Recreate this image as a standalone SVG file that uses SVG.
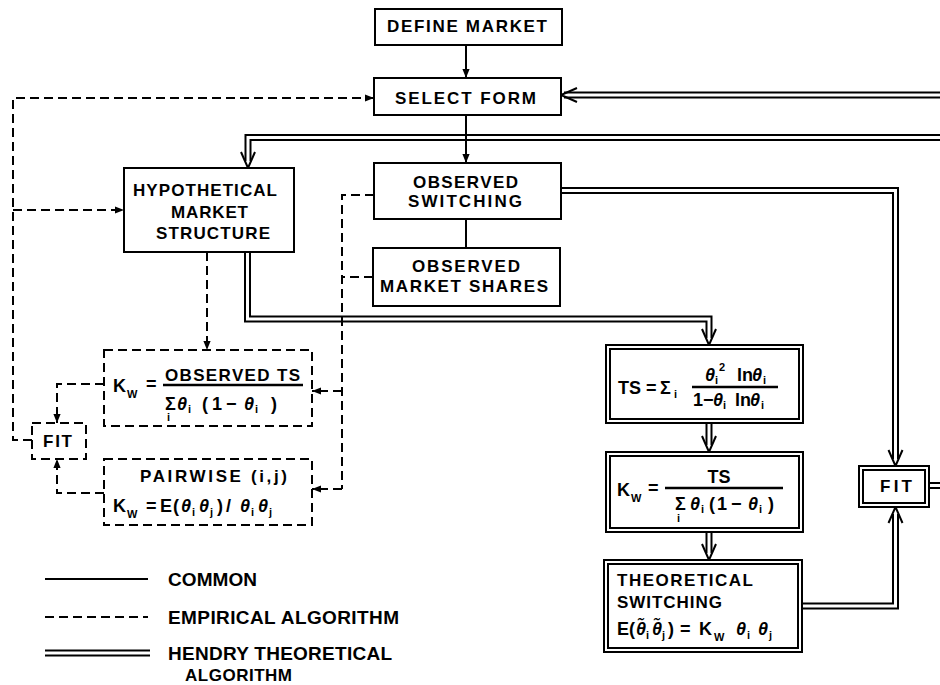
<svg xmlns="http://www.w3.org/2000/svg" width="940" height="685" viewBox="0 0 940 685">
<style>
.box{fill:#fff;stroke:#000;stroke-width:2}
.dbox{fill:#fff;stroke:#000;stroke-width:2;stroke-dasharray:9 5}
.ln{fill:none;stroke:#000;stroke-width:2}
.dash{fill:none;stroke:#000;stroke-width:2;stroke-dasharray:9 5}
.dbo{fill:none;stroke:#000;stroke-width:7;stroke-linejoin:miter}
.dbi{fill:none;stroke:#fff;stroke-width:3;stroke-linejoin:miter}
.v{fill:none;stroke:#000;stroke-width:2;stroke-linejoin:miter}
.t{font-family:"Liberation Sans",Arial,sans-serif;font-weight:bold;font-size:17px;fill:#000}
.lg{font-size:19px}
.m{font-size:18px}
.th{font-style:italic}
.s{font-size:11px}
.fl{stroke:#000;stroke-width:2.5}
</style>
<defs>
<marker id="ah" viewBox="0 0 10 10" refX="10" refY="5" markerWidth="9" markerHeight="9" markerUnits="userSpaceOnUse" orient="auto">
<path d="M0,1 L10,5 L0,9 z" fill="#000"/>
</marker>
</defs>
<rect width="940" height="685" fill="#fff"/>

<g id="connectors">
<path class="dbo" d="M940,95 H564"/><path class="dbi" d="M940,95 H564"/>
<polyline class="v" points="577,88 561,95 577,102"/>
<path class="dbo" d="M940,137.5 H248 V161"/><path class="dbi" d="M940,137.5 H248 V161"/>
<polyline class="v" points="241,152 248,168 255,152"/>
<path class="dbo" d="M561,190.5 H895.5 V459"/><path class="dbi" d="M561,190.5 H895.5 V459"/>
<polyline class="v" points="888.5,450 895.5,466 902.5,450"/>
<path class="dbo" d="M247.5,252 V319 H709 V338"/><path class="dbi" d="M247.5,252 V319 H709 V338"/>
<polyline class="v" points="702,329 709,345 716,329"/>
<path class="dbo" d="M709,423 V445"/><path class="dbi" d="M709,423 V445"/>
<polyline class="v" points="702,436 709,452 716,436"/>
<path class="dbo" d="M709,532 V553"/><path class="dbi" d="M709,532 V553"/>
<polyline class="v" points="702,544 709,560 716,544"/>
<path class="dbo" d="M802,606 H895.5 V514"/><path class="dbi" d="M802,606 H895.5 V514"/>
<polyline class="v" points="888.5,523 895.5,507 902.5,523"/>
<path class="dbo" d="M929,485.5 H940"/><path class="dbi" d="M929,485.5 H940"/>
<line class="ln" x1="466" y1="45" x2="466" y2="78" marker-end="url(#ah)"/>
<line class="ln" x1="466" y1="115" x2="466" y2="163" marker-end="url(#ah)"/>
<line class="ln" x1="466" y1="219" x2="466" y2="248"/>
<path class="dash" d="M32,440 H13 V98 H374" marker-end="url(#ah)"/>
<line class="dash" x1="13" y1="210" x2="124" y2="210" marker-end="url(#ah)"/>
<line class="dash" x1="207" y1="252" x2="207" y2="350" marker-end="url(#ah)"/>
<path class="dash" d="M104,384 H57 V423" marker-end="url(#ah)"/>
<path class="dash" d="M104,493 H57 V459" marker-end="url(#ah)"/>
<path class="dash" d="M374,195 H342 V489"/>
<line class="dash" x1="373" y1="277" x2="342" y2="277"/>
<line class="dash" x1="342" y1="391" x2="312" y2="391" marker-end="url(#ah)"/>
<line class="dash" x1="342" y1="489" x2="312" y2="489" marker-end="url(#ah)"/>
</g>

<g id="define-market">
<rect class="box" x="375" y="9" width="187" height="36"/>
<text class="t" x="387" y="32" textLength="160">DEFINE MARKET</text>
</g>
<g id="select-form">
<rect class="box" x="374" y="78" width="187" height="37"/>
<text class="t" x="395" y="104" textLength="141">SELECT FORM</text>
</g>
<g id="hypothetical">
<rect class="box" x="124" y="168" width="170" height="84"/>
<text class="t" x="133" y="196" textLength="144">HYPOTHETICAL</text>
<text class="t" x="171" y="218" textLength="77">MARKET</text>
<text class="t" x="156" y="239" textLength="114">STRUCTURE</text>
</g>
<g id="observed-switching">
<rect class="box" x="374" y="163" width="187" height="56"/>
<text class="t" x="413" y="188" textLength="105">OBSERVED</text>
<text class="t" x="408" y="207" textLength="114">SWITCHING</text>
</g>
<g id="observed-shares">
<rect class="box" x="373" y="248" width="187" height="58"/>
<text class="t" x="412" y="272" textLength="108">OBSERVED</text>
<text class="t" x="380" y="292" textLength="168">MARKET SHARES</text>
</g>
<g id="empirical-kw">
<rect class="dbox" x="104" y="350" width="208" height="76"/>
<text class="t m" x="113" y="392">K</text>
<text class="t s" x="127" y="398">W</text>
<text class="t m" x="146" y="390">=</text>
<text class="t" x="165" y="381" textLength="135">OBSERVED TS</text>
<line class="fl" x1="163" y1="385" x2="303" y2="385"/>
<text class="t m" y="410"><tspan x="165">Σ</tspan><tspan class="th" x="177">θ</tspan><tspan x="202">(</tspan><tspan x="212">1</tspan><tspan x="226">−</tspan><tspan class="th" x="244">θ</tspan><tspan x="271">)</tspan></text>
<text class="t s" y="413"><tspan x="188">i</tspan><tspan x="255">i</tspan></text>
<text class="t s" x="167" y="421">i</text>
</g>
<g id="empirical-fit">
<rect class="dbox" x="32" y="423" width="54" height="36"/>
<text class="t" x="43" y="447" textLength="29">FIT</text>
</g>
<g id="pairwise">
<rect class="dbox" x="104" y="459" width="208" height="66"/>
<text class="t" x="140" y="482" textLength="147">PAIRWISE (i,j)</text>
<text class="t m" y="512"><tspan x="113">K</tspan><tspan x="146">=</tspan><tspan x="160">E</tspan><tspan x="173">(</tspan><tspan class="th" x="181">θ</tspan><tspan class="th" x="199">θ</tspan><tspan x="217">)</tspan><tspan x="226">/</tspan><tspan class="th" x="240">θ</tspan><tspan class="th" x="258">θ</tspan></text>
<text class="t s" y="516"><tspan x="192">i</tspan><tspan x="210">j</tspan><tspan x="251">i</tspan><tspan x="269">j</tspan></text>
<text class="t s" x="127" y="518">W</text>
</g>
<g id="ts-formula">
<rect class="box" x="606" y="345" width="197" height="78"/>
<rect class="box" x="610" y="349" width="189" height="70"/>
<text class="t m" y="394"><tspan x="618">TS</tspan><tspan x="646">=</tspan><tspan x="660">Σ</tspan></text>
<text class="t s" x="674" y="398">i</text>
<text class="t m" y="381"><tspan class="th" x="705">θ</tspan><tspan x="737">ln</tspan><tspan class="th" x="752">θ</tspan></text>
<text class="t s" y="384"><tspan x="715">i</tspan><tspan x="763">i</tspan></text>
<text class="t s" x="719" y="371">2</text>
<line class="fl" x1="692" y1="387" x2="778" y2="387"/>
<text class="t m" y="406"><tspan x="693">1</tspan><tspan x="703">−</tspan><tspan class="th" x="713">θ</tspan><tspan x="735">ln</tspan><tspan class="th" x="750">θ</tspan></text>
<text class="t s" y="409"><tspan x="723">i</tspan><tspan x="761">i</tspan></text>
</g>
<g id="kw-formula">
<rect class="box" x="606" y="452" width="197" height="80"/>
<rect class="box" x="610" y="456" width="189" height="72"/>
<text class="t m" x="617" y="496">K</text>
<text class="t s" x="631" y="502">W</text>
<text class="t m" x="648" y="494">=</text>
<text class="t m" x="719" y="483" text-anchor="middle">TS</text>
<line class="fl" x1="665" y1="488" x2="783" y2="488"/>
<text class="t m" y="510"><tspan x="675">Σ</tspan><tspan class="th" x="690">θ</tspan><tspan x="709">(</tspan><tspan x="717">1</tspan><tspan x="731">−</tspan><tspan class="th" x="748">θ</tspan><tspan x="768">)</tspan></text>
<text class="t s" y="513"><tspan x="701">i</tspan><tspan x="759">i</tspan></text>
<text class="t s" x="677" y="522">i</text>
</g>
<g id="theoretical-switching">
<rect class="box" x="604" y="560" width="198" height="92"/>
<rect class="box" x="608" y="564" width="190" height="84"/>
<text class="t" x="617" y="586" textLength="136">THEORETICAL</text>
<text class="t" x="617" y="608" textLength="105">SWITCHING</text>
<text class="t m" y="635"><tspan x="617">E</tspan><tspan x="629">(</tspan><tspan class="th" x="636">θ̃</tspan><tspan class="th" x="652">θ̃</tspan><tspan x="668">)</tspan><tspan x="680">=</tspan><tspan x="699">K</tspan><tspan class="th" x="736">θ</tspan><tspan class="th" x="758">θ</tspan></text>
<text class="t s" y="639"><tspan x="646">i</tspan><tspan x="662">j</tspan><tspan x="747">i</tspan><tspan x="769">j</tspan></text>
<text class="t s" x="714" y="641">W</text>
</g>
<g id="theoretical-fit">
<rect class="box" x="859" y="466" width="70" height="41"/>
<rect class="box" x="863" y="470" width="62" height="33"/>
<text class="t" x="880" y="492" textLength="32">FIT</text>
</g>

<g id="legend">
<line class="ln" x1="45" y1="579" x2="148" y2="579"/>
<text class="t lg" x="168" y="586" textLength="89">COMMON</text>
<line class="dash" x1="45" y1="617" x2="148" y2="617"/>
<text class="t lg" x="168" y="624" textLength="231">EMPIRICAL ALGORITHM</text>
<path class="dbo" d="M45,653 H150"/><path class="dbi" d="M45,653 H150"/>
<text class="t lg" x="168" y="660" textLength="224">HENDRY THEORETICAL</text>
<text class="t" font-size="18" x="185" y="681" textLength="107">ALGORITHM</text>
</g>
</svg>
